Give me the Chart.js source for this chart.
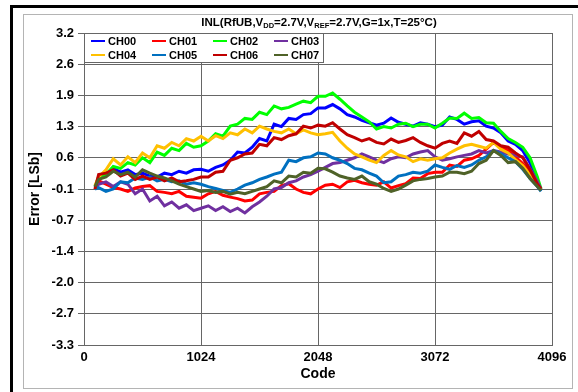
<!DOCTYPE html>
<html>
<head>
<meta charset="utf-8">
<script src="https://cdn.jsdelivr.net/npm/chart.js@4.4.1/dist/chart.umd.min.js"></script>
<style>
  html, body { margin: 0; padding: 0; background: #fff; }
  #wrap { position: relative; width: 578px; height: 392px; overflow: hidden; font-family: "Liberation Sans", Arial, sans-serif; }
  #frame { position: absolute; left: 10px; top: 5px; width: 600px; height: 400px; border-left: 3px solid #000; border-top: 3px solid #000; }
  #panel { position: absolute; left: 23px; top: 14px; width: 548px; height: 373px; border: 1px solid #b4b4b4; }
  #chart { position: absolute; left: 0; top: 0; }
  #title { position: absolute; left: 84px; width: 470px; top: 16px; text-align: center; font-weight: bold; font-size: 11.5px; line-height: 13px; white-space: nowrap; }
  #title sub { font-size: 7.5px; vertical-align: -2px; line-height: 0; }
  #legend { position: absolute; left: 84px; top: 33px; width: 238px; height: 28px; background: #fff; border: 1px solid #666; }
  .lg-item { position: absolute; height: 12px; font-weight: bold; font-size: 11px; line-height: 12px; white-space: nowrap; }
  .lg-line { position: absolute; left: 0; top: 5px; width: 14px; height: 2px; }
  .lg-text { position: absolute; left: 17px; top: 0; }
</style>
</head>
<body>
<div id="wrap">
  <div id="frame"></div>
  <div id="panel"></div>
  <canvas id="chart" width="578" height="392"></canvas>
  <div id="title">INL(RfUB,V<sub>DD</sub>=2.7V,V<sub>REF</sub>=2.7V,G=1x,T=25°C)</div>
  <div id="legend"></div>
</div>
<script>
'use strict';

// Input codes where the curves were sampled.
const codes = [96, 128, 192, 256, 320, 384, 448, 512, 576, 640, 704, 768, 832, 896, 960, 1024,
  1088, 1152, 1216, 1280, 1344, 1408, 1472, 1536, 1600, 1664, 1728, 1792, 1856, 1920, 1984, 2048,
  2112, 2176, 2240, 2304, 2368, 2432, 2496, 2560, 2624, 2688, 2752, 2816, 2880, 2944, 3008, 3072,
  3136, 3200, 3264, 3328, 3392, 3456, 3520, 3584, 3648, 3712, 3776, 3840, 3904, 3968, 4000];

// INL per channel [LSb].
const ch00 = [-0.02, 0.15, 0.25, 0.38, 0.3, 0.35, 0.25, 0.28, 0.22, 0.2, 0.28, 0.25, 0.32, 0.28, 0.35, 0.36,
  0.32, 0.4, 0.45, 0.55, 0.72, 0.7, 0.82, 1.0, 0.95, 1.3, 1.25, 1.42, 1.4, 1.5, 1.52, 1.64,
  1.64, 1.71, 1.62, 1.5, 1.45, 1.38, 1.33, 1.28, 1.32, 1.43, 1.34, 1.3, 1.26, 1.33, 1.3, 1.25,
  1.28, 1.45, 1.4, 1.3, 1.35, 1.37, 1.26, 1.22, 1.12, 0.95, 0.88, 0.75, 0.5, 0.1, -0.08];
const ch01 = [-0.05, 0.12, 0.05, -0.02, -0.05, -0.1, -0.03, 0.0, 0.02, -0.1, -0.12, -0.15, -0.1, -0.2, -0.22, -0.24,
  -0.15, -0.1, -0.18, -0.22, -0.25, -0.3, -0.28, -0.15, -0.12, -0.1, 0.02, 0.06, -0.05, -0.12, -0.15, -0.05,
  0.03, 0.05, -0.02, 0.1, 0.13, 0.08, 0.05, 0.03, 0.1, -0.03, 0.02, 0.06, 0.18, 0.17, 0.27, 0.3,
  0.3, 0.45, 0.42, 0.55, 0.58, 0.65, 0.78, 0.92, 0.82, 0.76, 0.62, 0.48, 0.3, 0.08, -0.05];
const ch02 = [0.0, 0.2, 0.25, 0.42, 0.38, 0.5, 0.45, 0.6, 0.5, 0.72, 0.65, 0.8, 0.75, 0.9, 0.82, 0.85,
  0.95, 1.1, 1.05, 1.26, 1.3, 1.42, 1.4, 1.55, 1.5, 1.68, 1.62, 1.65, 1.72, 1.78, 1.75, 1.88,
  1.88, 1.95, 1.82, 1.68, 1.55, 1.45, 1.35, 1.2, 1.25, 1.22, 1.3, 1.32, 1.25, 1.3, 1.3, 1.22,
  1.32, 1.43, 1.42, 1.53, 1.42, 1.44, 1.33, 1.32, 1.15, 1.0, 0.92, 0.82, 0.6, 0.2, -0.05];
const ch03 = [-0.05, 0.05, 0.1, 0.0, 0.1, 0.05, -0.15, -0.05, -0.3, -0.2, -0.4, -0.32, -0.45, -0.38, -0.5, -0.45,
  -0.4, -0.5, -0.42, -0.52, -0.45, -0.55, -0.42, -0.32, -0.2, -0.05, -0.02, 0.08, 0.12, 0.2, 0.25, 0.32,
  0.4, 0.48, 0.5, 0.55, 0.6, 0.68, 0.62, 0.55, 0.5, 0.58, 0.62, 0.6, 0.68, 0.72, 0.75, 0.62,
  0.55, 0.58, 0.62, 0.65, 0.68, 0.75, 0.7, 0.75, 0.72, 0.68, 0.65, 0.62, 0.37, 0.1, -0.05];
const ch04 = [0.02, 0.2, 0.35, 0.58, 0.45, 0.62, 0.5, 0.7, 0.6, 0.85, 0.8, 0.92, 0.85, 1.0, 0.95, 1.05,
  0.95, 1.06, 1.0, 1.12, 1.08, 1.2, 1.12, 1.26, 1.2, 1.15, 1.12, 1.2, 1.1, 1.18, 1.12, 1.08,
  1.1, 1.13, 0.95, 0.8, 0.68, 0.62, 0.55, 0.5, 0.65, 0.75, 0.66, 0.62, 0.52, 0.58, 0.55, 0.58,
  0.6, 0.7, 0.78, 0.85, 0.88, 0.84, 0.8, 0.92, 0.78, 0.7, 0.56, 0.44, 0.24, 0.03, -0.08];
const ch05 = [-0.05, -0.02, -0.1, -0.05, 0.1, 0.08, 0.18, 0.15, 0.2, 0.12, 0.15, 0.1, 0.12, 0.05, 0.08, 0.05,
  0.0, -0.04, -0.08, -0.12, -0.05, 0.03, 0.08, 0.15, 0.2, 0.26, 0.3, 0.55, 0.52, 0.6, 0.62, 0.7,
  0.68, 0.6, 0.55, 0.48, 0.38, 0.35, 0.28, 0.22, 0.08, 0.1, 0.22, 0.25, 0.3, 0.28, 0.32, 0.45,
  0.4, 0.36, 0.44, 0.4, 0.45, 0.55, 0.62, 0.75, 0.68, 0.6, 0.52, 0.36, 0.17, 0.0, -0.1];
const ch06 = [-0.05, 0.25, 0.28, 0.35, 0.22, 0.28, 0.15, 0.22, 0.15, 0.2, 0.12, 0.18, 0.1, 0.12, 0.15, 0.2,
  0.2, 0.3, 0.32, 0.55, 0.6, 0.68, 0.7, 0.88, 0.85, 1.02, 0.98, 1.06, 1.1, 1.26, 1.22, 1.28,
  1.26, 1.33, 1.2, 1.08, 1.02, 0.95, 1.0, 0.92, 0.89, 0.99, 0.92, 0.96, 1.02, 0.92, 0.85, 0.8,
  0.9, 0.95, 0.9, 1.12, 1.05, 1.15, 0.98, 0.95, 0.85, 0.82, 0.7, 0.6, 0.35, 0.05, -0.05];
const ch07 = [0.0, 0.15, 0.2, 0.32, 0.25, 0.3, 0.2, 0.35, 0.28, 0.22, 0.18, 0.12, 0.05, 0.0, -0.05, -0.1,
  -0.08, -0.12, -0.1, -0.16, -0.12, -0.15, -0.1, -0.05, 0.0, 0.12, 0.08, 0.22, 0.2, 0.3, 0.28, 0.38,
  0.37, 0.3, 0.22, 0.18, 0.15, 0.22, 0.1, 0.05, -0.04, -0.1, -0.05, 0.03, 0.12, 0.15, 0.17, 0.2,
  0.22, 0.3, 0.3, 0.27, 0.32, 0.48, 0.55, 0.75, 0.65, 0.5, 0.52, 0.38, 0.17, 0.0, -0.08];

const seriesNames = ['CH00', 'CH01', 'CH02', 'CH03', 'CH04', 'CH05', 'CH06', 'CH07'];
const seriesValues = [ch00, ch01, ch02, ch03, ch04, ch05, ch06, ch07];
const seriesColors = ['#0000ff', '#ff0000', '#00ff00', '#7030a0', '#ffc000', '#0070c0', '#c00000', '#4f6228'];

// Axis ticks.
const xTicks = [0, 1024, 2048, 3072, 4096];
const yTicks = [-3.3, -2.65, -2.0, -1.35, -0.7, -0.05, 0.6, 1.25, 1.9, 2.55, 3.2];
const yTickLabels = ['-3.3', '-2.7', '-2.0', '-1.4', '-0.7', '-0.1', '0.6', '1.3', '1.9', '2.6', '3.2'];

// Legend (two rows of four, inside the plot).
const legend = document.getElementById('legend');
seriesNames.forEach(function (name, i) {
  const item = document.createElement('div');
  item.className = 'lg-item';
  item.style.left = (6 + (i % 4) * 61) + 'px';
  item.style.top = (1 + Math.floor(i / 4) * 14) + 'px';
  item.innerHTML = '<div class="lg-line" style="background:' + seriesColors[i] + '"></div>' +
    '<div class="lg-text">' + name + '</div>';
  legend.appendChild(item);
});

const tickFont = { family: '"Liberation Sans", Arial, sans-serif', weight: 'bold', size: 13 };
const titleFont = { family: '"Liberation Sans", Arial, sans-serif', weight: 'bold', size: 14 };

const datasets = seriesNames.map(function (name, i) {
  return {
    label: name,
    data: codes.map((c, j) => ({ x: c, y: seriesValues[i][j] })),
    borderColor: seriesColors[i],
    backgroundColor: seriesColors[i],
    borderWidth: 3,
    pointRadius: 0,
    tension: 0,
    // Later channels on top.
    order: seriesNames.length - 1 - i,
  };
});

new Chart(document.getElementById('chart'), {
  type: 'line',
  data: { datasets: datasets },
  options: {
    responsive: false,
    animation: false,
    layout: { padding: { left: 23, top: 33, right: 26, bottom: 4 } },
    plugins: {
      legend: { display: false },
      tooltip: { enabled: false },
    },
    scales: {
      x: {
        type: 'linear',
        min: 0,
        max: 4096,
        afterBuildTicks: function (axis) {
          axis.ticks = xTicks.map(v => ({ value: v }));
        },
        afterFit: function (axis) {
          axis.height = 43;
        },
        grid: { color: '#666', drawTicks: false },
        border: { color: '#666' },
        ticks: {
          color: '#000',
          font: tickFont,
          padding: 5,
          maxRotation: 0,
          autoSkip: false,
          callback: v => String(v),
        },
        title: { display: true, text: 'Code', color: '#000', font: titleFont, padding: { top: 0, bottom: 5 } },
      },
      y: {
        min: -3.3,
        max: 3.2,
        afterBuildTicks: function (axis) {
          axis.ticks = yTicks.map(v => ({ value: v }));
        },
        afterFit: function (axis) {
          axis.width = 61;
        },
        grid: { color: '#666', tickLength: 6 },
        border: { color: '#666' },
        ticks: {
          color: '#000',
          font: tickFont,
          padding: 4,
          autoSkip: false,
          callback: (v, i) => yTickLabels[i],
        },
        title: { display: true, text: 'Error [LSb]', color: '#000', font: titleFont, padding: { top: 4, bottom: 0 } },
      },
    },
  },
});
</script>
</body>
</html>
